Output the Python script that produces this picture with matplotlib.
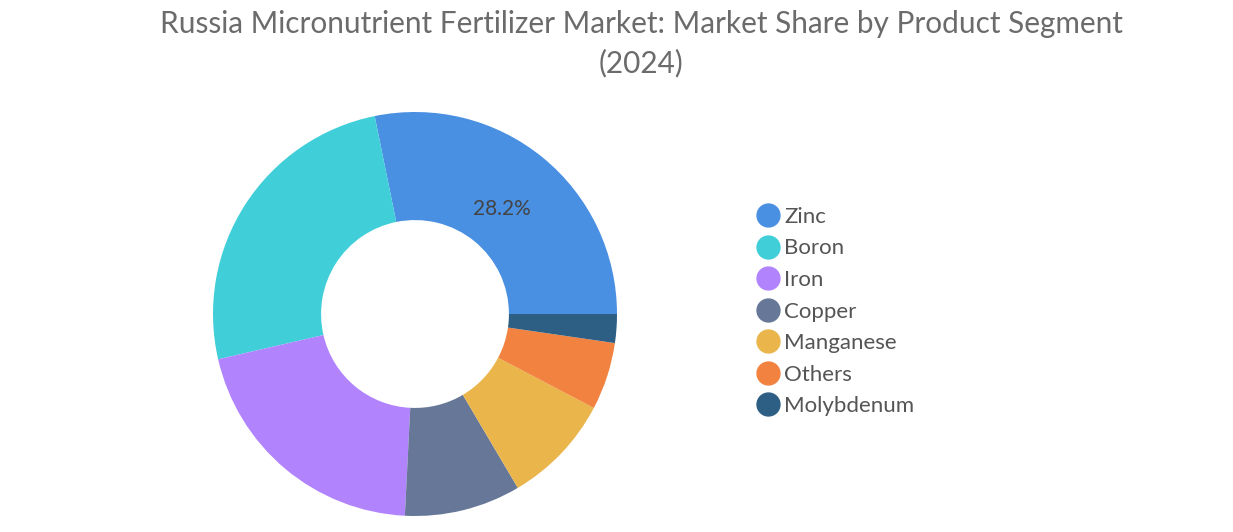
"""
Russia micronutrient fertilizer market - share by product segment (2024).
Donut chart with a circle-marker legend on the right.
"""

import numpy as np
import matplotlib
matplotlib.use('Agg')
import matplotlib.pyplot as plt
from matplotlib.lines import Line2D

plt.rcParams['font.family'] = ['Lato', 'DejaVu Sans']

SEGMENTS = ['Zinc', 'Boron', 'Iron', 'Copper', 'Manganese', 'Others', 'Molybdenum']
SHARES   = [28.2, 25.4, 20.6, 9.3, 8.8, 5.4, 2.3]
COLORS   = ['#4A90E2', '#40CFD9', '#B184FE', '#667798',
            '#EAB54A', '#F2823F', '#2D5E84']
SHOWN_LABELS = ['28.2%', '', '', '', '', '', '']

TITLE = 'Russia Micronutrient Fertilizer Market: Market Share by Product Segment\n(2024)'
TEXT_GREY = '#555555'

W, H = 1233, 532
fig = plt.figure(figsize=(W / 100, H / 100), dpi=100)

# pie axes: centre (415, 314) px, radius 202 px
cx, cy, r = 415, 314, 202
ax = fig.add_axes([(cx - r) / W, (H - cy - r) / H, 2 * r / W, 2 * r / H])
wedges, _ = ax.pie(SHARES, colors=COLORS, startangle=0, counterclock=True,
                   radius=1.0, wedgeprops=dict(width=0.535, linewidth=0))
ax.set_xlim(-1, 1)
ax.set_ylim(-1, 1)
ax.set_aspect('equal')
ax.axis('off')

# percentage labels (only the largest is shown in the original)
for w, lab in zip(wedges, SHOWN_LABELS):
    if not lab:
        continue
    mid = np.deg2rad((w.theta1 + w.theta2) / 2)
    ax.text(0.68 * np.cos(mid), 0.67 * np.sin(mid), lab,
            ha='center', va='center', fontsize=15, color='#444444')

fig.text(641 / W, 1 - 10 / H, TITLE, ha='center', va='top',
         fontsize=21.4, color='#6b6b6b', linespacing=1.45)

handles = [Line2D([0], [0], marker='o', linestyle='', markersize=16.5,
                  markerfacecolor=c, markeredgecolor=c) for c in COLORS]
leg = fig.legend(handles, SEGMENTS, loc='center left',
                 bbox_to_anchor=(748 / W, 1 - 311.5 / H),
                 frameon=False, fontsize=16, handletextpad=0.24,
                 labelspacing=0.52, borderaxespad=0, handlelength=1.0)
for t in leg.get_texts():
    t.set_color(TEXT_GREY)

fig.savefig('out.png', dpi=100)
